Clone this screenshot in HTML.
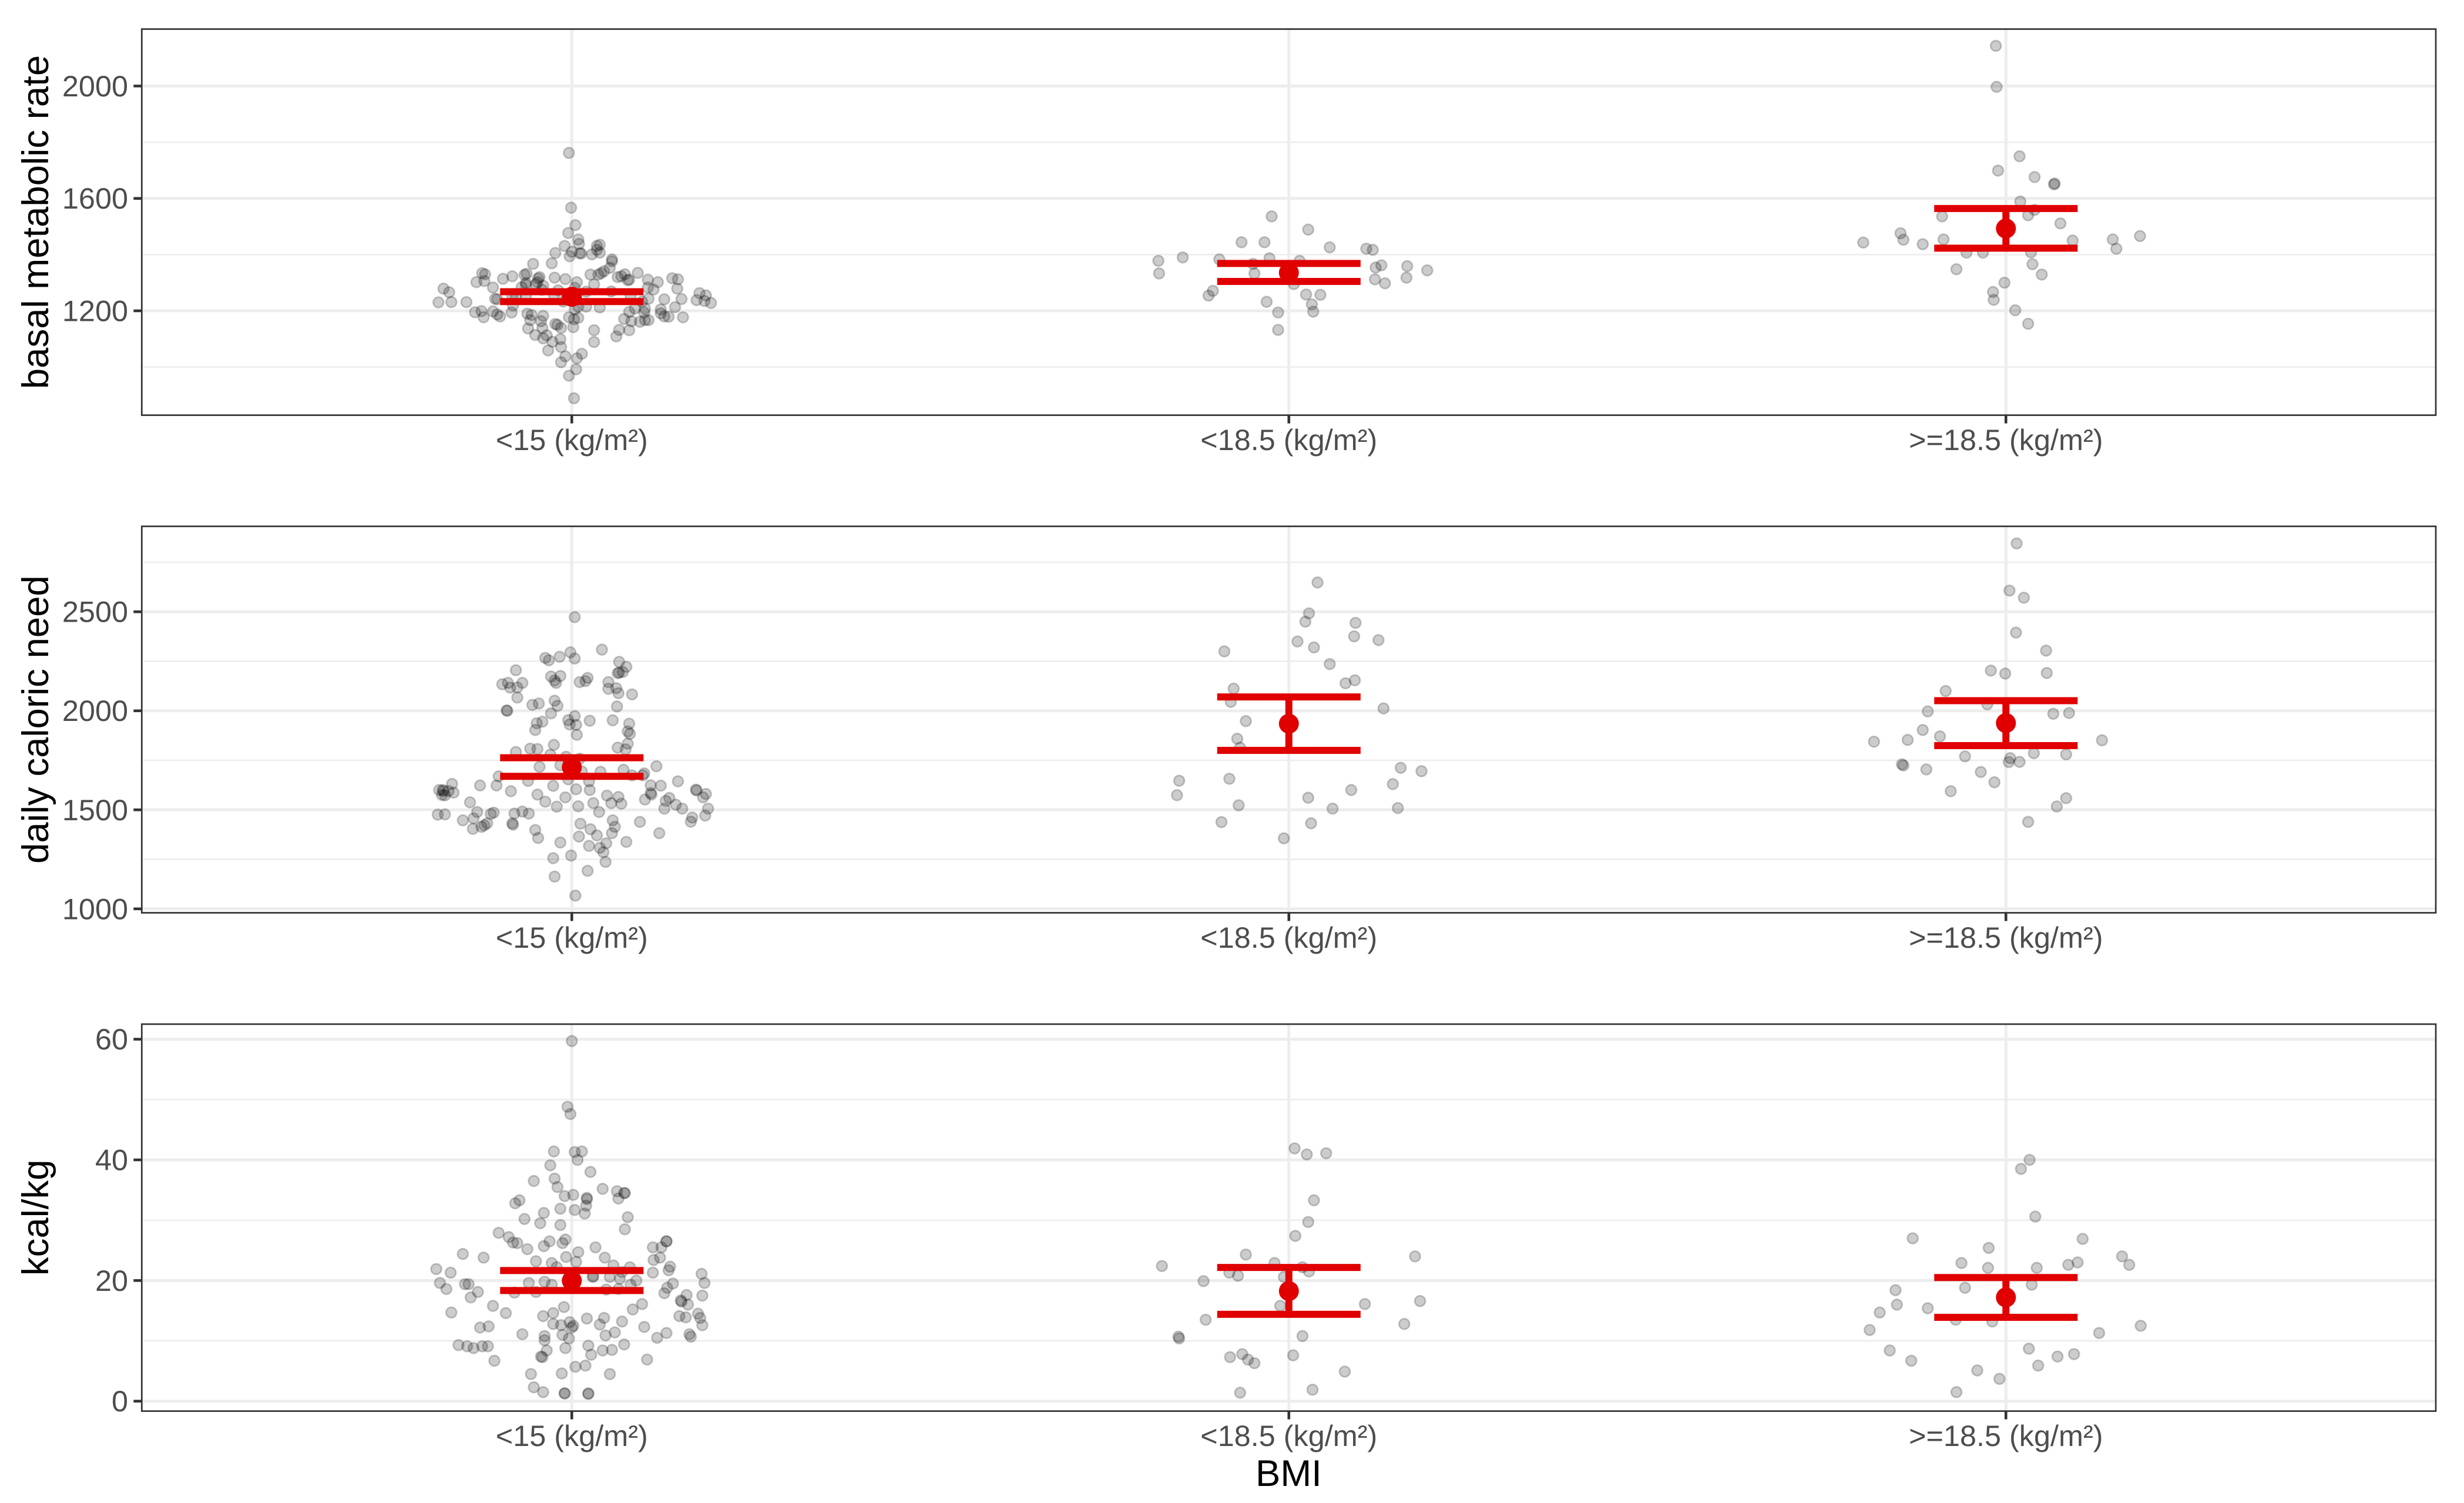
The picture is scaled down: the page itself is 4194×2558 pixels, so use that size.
<!DOCTYPE html>
<html lang="en">
<head>
<meta charset="utf-8">
<title>BMI versus basal metabolic rate, daily caloric need and kcal/kg</title>
<style>
html,body{margin:0;padding:0;background:#fff;width:4194px;height:2558px;overflow:hidden}
svg{display:block;font-family:"Liberation Sans",Arial,sans-serif}
</style>
</head>
<body>
<svg id="chart" xmlns="http://www.w3.org/2000/svg" width="4194" height="2558" viewBox="0 0 4194 2558">
  <rect x="0" y="0" width="4194" height="2558" fill="#ffffff"/>
  <g id="panel-bmr"></g>
  <g id="panel-cal"></g>
  <g id="panel-kcal"></g>
  <text transform="translate(82,378) rotate(-90)" text-anchor="middle" font-size="63.5" fill="#000">basal metabolic rate</text>
  <text transform="translate(82,1224.6) rotate(-90)" text-anchor="middle" font-size="63.5" fill="#000">daily caloric need</text>
  <text transform="translate(82,2072.3) rotate(-90)" text-anchor="middle" font-size="63.5" fill="#000">kcal/kg</text>
  <text x="2193.5" y="2529" text-anchor="middle" font-size="63.5" fill="#000">BMI</text>
</svg>
<script>
const categories = ["<15 (kg/m²)", "<18.5 (kg/m²)", ">=18.5 (kg/m²)"];

const bmrTicks = [1200, 1600, 2000];
const bmrMinorTicks = [1000, 1400, 1800];
const calTicks = [1000, 1500, 2000, 2500];
const calMinorTicks = [1250, 1750, 2250, 2750];
const kcalTicks = [0, 20, 40, 60];
const kcalMinorTicks = [10, 30, 50];

const bmrMeans = [1250, 1335.5, 1493];
const bmrLower = [1233, 1304.5, 1423];
const bmrUpper = [1268, 1368.5, 1564];
const calMeans = [1715, 1935, 1938];
const calLower = [1669, 1800, 1824];
const calUpper = [1763, 2070, 2051];
const kcalMeans = [19.97, 18.25, 17.2];
const kcalLower = [18.34, 14.4, 13.9];
const kcalUpper = [21.65, 22.16, 20.5];

// Each observation: [horizontal jitter in category units, measured value]
const bmrGroup1 = [[-.186,1230],[-.179,1279],[-.171,1266],[-.168,1231],[-.147,1231],[-.135,1195],[-.126,1199],[-.123,1177],[-.110,1198],[-.104,1187],[-.100,1180],[-.133,1302],[-.125,1334],[-.121,1330],[-.122,1306],[-.110,1283],[-.096,1314],[-.083,1323],[-.107,1243],[-.104,1241],[-.084,1194],[-.082,1219],[-.083,1254],[-.078,1254],[-.064,1252],[-.066,1328],[-.063,1332],[-.054,1367],[-.070,1284],[-.064,1299],[-.064,1292],[-.045,1320],[-.047,1315],[-.048,1302],[-.050,1295],[-.040,1289],[-.042,1275],[-.024,1318],[-.009,1313],[.007,1302],[-.019,1273],[-.025,1257],[-.062,1190],[-.056,1185],[-.058,1167],[-.040,1182],[-.043,1163],[-.061,1137],[-.041,1139],[-.051,1114],[-.035,1113],[-.040,1102],[-.027,1090],[-.023,1153],[-.020,1150],[-.015,1139],[-.016,1099],[-.015,1071],[-.033,1059],[-.009,1038],[-.015,1017],[-.004,969],[.006,992],[.007,1031],[.014,1047],[.003,889],[.002,1142],[-.004,1177],[.003,1170],[.009,1175],[.004,1205],[.009,1215],[.020,1215],[.039,1212],[.031,1131],[.031,1089],[.062,1109],[.066,1132],[.080,1131],[.073,1171],[.083,1163],[.080,1196],[.088,1208],[.095,1161],[.102,1167],[.107,1167],[.102,1208],[.101,1194],[.124,1205],[.124,1191],[.129,1180],[.135,1179],[.155,1177],[.144,1213],[.129,1241],[.153,1242],[.107,1243],[.082,1254],[.055,1269],[.114,1276],[.106,1283],[.106,1311],[.120,1302],[.140,1316],[.148,1312],[.147,1279],[.178,1263],[.187,1255],[.174,1238],[.185,1235],[.194,1228],[.092,1335],[.074,1330],[.064,1320],[.069,1323],[.078,1309],[.080,1311],[.031,1294],[.026,1329],[.037,1329],[.041,1334],[.045,1341],[.053,1353],[.056,1376],[.056,1383],[.028,1401],[.035,1431],[.039,1435],[.039,1407],[.035,1417],[.009,1454],[.010,1438],[.011,1405],[.013,1404],[0,1410],[-.003,1394],[-.010,1431],[-.023,1406],[-.028,1369],[-.005,1477],[.005,1505],[-.001,1567],[-.004,1762],[.020,1268],[.004,1282],[.098,1233],[-.012,1233]];
const bmrGroup2 = [[-.182,1378],[-.181,1333],[-.148,1390],[-.097,1383],[-.112,1254],[-.106,1271],[-.066,1444],[-.034,1444],[-.024,1536],[.027,1489],[.057,1426],[.108,1421],[.117,1417],[-.027,1387],[.015,1378],[-.050,1367],[-.048,1333],[-.031,1232],[-.015,1194],[-.015,1132],[.024,1258],[.044,1257],[.032,1223],[.034,1197],[.007,1295],[.129,1362],[.121,1354],[.165,1359],[.193,1344],[.164,1318],[.120,1312],[.134,1298]];
const bmrGroup3 = [[-.014,2143],[-.013,1997],[.019,1750],[-.011,1699],[.040,1676],[.068,1653],[.067,1650],[.020,1589],[.040,1559],[.031,1540],[-.089,1536],[.076,1511],[-.147,1476],[-.143,1453],[-.199,1443],[-.116,1437],[-.087,1454],[.093,1450],[.149,1454],[.187,1466],[.154,1421],[-.055,1407],[-.032,1407],[.035,1408],[.037,1366],[-.069,1348],[.050,1329],[-.002,1300],[-.018,1267],[-.017,1239],[.013,1202],[.031,1154]];

const calGroup1 = [[.004,2473],[.042,2309],[-.002,2295],[-.017,2273],[.004,2264],[-.037,2267],[-.032,2255],[.066,2247],[.076,2222],[.071,2196],[.064,2190],[.066,2193],[-.078,2205],[-.097,2134],[-.089,2141],[-.069,2141],[-.086,2117],[-.076,2118],[-.076,2067],[-.029,2173],[-.016,2176],[-.024,2153],[-.022,2141],[.011,2145],[.019,2150],[.022,2166],[.051,2145],[.051,2111],[.062,2114],[.065,2089],[.084,2083],[.063,2022],[-.055,2030],[-.046,2037],[-.024,2051],[-.020,2025],[-.091,2002],[-.090,2000],[-.029,1987],[-.041,1945],[-.049,1937],[-.051,1903],[.004,1973],[-.005,1953],[-.003,1931],[.006,1929],[.007,1879],[.025,1950],[.057,1952],[.080,1935],[.078,1896],[.081,1884],[.078,1834],[.064,1814],[.075,1805],[-.025,1828],[-.058,1809],[-.048,1807],[-.078,1792],[-.030,1778],[-.008,1768],[.011,1758],[-.045,1717],[-.016,1725],[.014,1694],[.040,1692],[.072,1702],[.118,1720],[.084,1674],[.101,1684],[.099,1674],[-.102,1669],[-.105,1623],[-.128,1623],[-.061,1646],[-.026,1621],[-.005,1654],[.024,1644],[.006,1604],[.025,1600],[-.167,1631],[-.185,1600],[-.180,1600],[-.181,1575],[-.177,1573],[-.172,1595],[-.165,1587],[-.179,1595],[-.085,1594],[-.048,1577],[-.037,1541],[-.009,1563],[-.021,1516],[.009,1518],[.030,1534],[.049,1572],[.065,1565],[.055,1534],[.069,1531],[.038,1489],[.110,1624],[.124,1622],[.148,1644],[.110,1585],[.111,1577],[.102,1552],[.136,1560],[.131,1545],[.129,1506],[.145,1526],[.154,1506],[.173,1602],[.174,1598],[.187,1580],[.183,1563],[.190,1506],[.186,1471],[.168,1461],[.166,1440],[.095,1439],[.122,1382],[-.187,1476],[-.177,1477],[-.142,1538],[-.132,1489],[-.137,1457],[-.152,1447],[-.138,1404],[-.126,1414],[-.122,1422],[-.118,1432],[-.113,1479],[-.109,1486],[-.080,1481],[-.069,1491],[-.060,1481],[-.083,1432],[-.082,1425],[-.051,1398],[-.047,1358],[-.016,1335],[.012,1430],[.026,1402],[.035,1371],[.010,1365],[.024,1318],[.057,1447],[.060,1414],[.056,1382],[.048,1331],[.039,1308],[.044,1286],[.047,1237],[.076,1338],[-.001,1269],[-.026,1256],[.022,1192],[-.024,1163],[.005,1067]];
const calGroup2 = [[.040,2648],[.028,2492],[.023,2450],[.093,2444],[.091,2376],[.125,2357],[.012,2350],[.035,2320],[-.090,2300],[.057,2236],[.079,2139],[.092,2154],[-.077,2112],[-.081,2045],[.132,2012],[-.060,1948],[-.072,1859],[-.068,1814],[-.153,1647],[-.156,1574],[-.083,1657],[-.070,1523],[-.094,1438],[.027,1561],[.087,1600],[.061,1506],[.031,1432],[-.007,1356],[.156,1712],[.185,1695],[.145,1630],[.152,1509]];
const calGroup3 = [[.015,2845],[.005,2607],[.025,2571],[.014,2395],[.056,2304],[-.021,2203],[-.001,2188],[.057,2191],[-.084,2100],[-.026,2033],[-.109,1997],[.066,1985],[.088,1989],[-.116,1903],[-.092,1871],[-.137,1853],[-.184,1844],[.134,1851],[.039,1786],[.084,1780],[-.057,1770],[.006,1761],[.004,1741],[.019,1742],[-.145,1730],[-.143,1724],[-.111,1704],[-.035,1691],[-.016,1639],[-.077,1594],[.084,1559],[.071,1517],[.031,1439]];

const kcalGroup1 = [[0,59.7],[-.006,48.8],[-.002,47.6],[-.025,41.4],[.004,41.3],[.014,41.4],[.008,40.0],[-.030,39.1],[.026,38.0],[-.053,36.5],[-.024,36.9],[-.020,35.5],[-.010,34.0],[.002,34.2],[.043,35.2],[.063,34.8],[.073,34.5],[.074,34.5],[.065,33.6],[.021,33.7],[.021,33.5],[.020,32.4],[.004,31.7],[.018,31.1],[-.016,31.9],[-.039,31.2],[-.073,33.3],[-.079,32.8],[-.066,30.2],[-.044,29.5],[-.016,29.2],[.078,30.5],[.074,28.5],[-.102,27.9],[-.088,27.2],[-.082,26.3],[-.076,26.2],[-.062,25.2],[-.039,25.7],[-.031,26.5],[-.013,26.2],[-.009,26.8],[.033,25.5],[.009,24.7],[-.008,23.9],[.006,23.1],[.046,23.8],[-.050,23.2],[-.028,22.9],[-.021,22.2],[.058,22.5],[.081,22.2],[.070,21.4],[.132,26.5],[.132,26.5],[.113,25.5],[.125,25.5],[.114,23.4],[.123,23.8],[.137,22.3],[.135,21.7],[.113,21.3],[.181,21.1],[.185,19.6],[.182,17.5],[.141,19.5],[.133,18.8],[.129,17.9],[.160,17.6],[.162,16.0],[.152,16.7],[.153,16.5],[.098,16.1],[.085,15.2],[.150,14.1],[.159,13.9],[.176,14.5],[.179,13.8],[.182,12.6],[.164,11.1],[.166,10.7],[.132,11.3],[.119,10.5],[.101,12.3],[.105,6.9],[.030,20.7],[.029,20.6],[.053,20.6],[.067,20.3],[.090,20.0],[.082,19.3],[.065,18.6],[.048,18.5],[-.060,19.6],[-.038,19.8],[-.028,19.3],[-.050,18.1],[-.080,18.0],[-.189,21.9],[-.169,21.3],[-.184,19.6],[-.175,18.6],[-.149,19.4],[-.144,19.4],[-.152,24.4],[-.123,23.8],[-.131,18.1],[-.141,17.2],[-.110,15.8],[-.168,14.7],[-.092,14.6],[-.011,15.6],[-.026,14.6],[-.040,14.1],[.021,13.7],[.045,13.8],[.039,12.7],[.070,13.2],[.060,11.4],[.047,10.9],[-.026,12.8],[-.015,12.6],[-.003,13.1],[.002,12.5],[0,12.2],[-.013,11.0],[-.004,10.4],[-.038,10.8],[-.038,10.1],[-.069,11.1],[-.128,12.2],[-.116,12.4],[-.158,9.3],[-.146,9.1],[-.137,8.8],[-.125,9.1],[-.117,9.1],[-.108,6.7],[-.009,8.8],[-.035,8.4],[-.043,7.4],[-.041,7.3],[.023,9.2],[.027,7.7],[.043,8.4],[.056,8.5],[.073,9.4],[.005,5.7],[.019,5.9],[-.014,4.6],[.053,4.5],[-.057,4.5],[-.053,2.3],[-.040,1.5],[-.010,1.3],[-.010,1.3],[.023,1.3],[.023,1.2]];
const kcalGroup2 = [[.008,41.9],[.025,40.9],[.052,41.1],[.035,33.3],[.027,29.7],[.009,27.4],[-.060,24.3],[-.020,22.9],[-.177,22.4],[.019,22.2],[.028,21.5],[-.083,21.3],[-.071,20.8],[-.007,20.6],[-.119,19.9],[.176,24.0],[.183,16.6],[.106,16.1],[-.012,15.8],[-.116,13.5],[.161,12.8],[.019,10.8],[-.154,10.7],[-.153,10.4],[-.065,7.8],[-.082,7.3],[-.057,6.9],[-.048,6.3],[.006,7.6],[.078,4.9],[.033,1.9],[-.068,1.4]];
const kcalGroup3 = [[.033,40.0],[.021,38.5],[.041,30.6],[-.130,27.0],[.107,26.9],[-.024,25.4],[.162,24.0],[.172,22.6],[-.062,22.9],[.100,23.0],[.087,22.6],[-.025,22.1],[.043,22.1],[.036,19.3],[-.057,18.8],[-.154,18.4],[-.152,16.0],[-.176,14.7],[-.109,15.4],[-.070,13.5],[-.019,13.2],[-.190,11.8],[.130,11.3],[.188,12.5],[-.162,8.4],[-.132,6.7],[.032,8.7],[.072,7.4],[.095,7.8],[.045,5.9],[-.040,5.1],[-.009,3.7],[-.069,1.5]];

const SVGNS = "http://www.w3.org/2000/svg";
const PANEL_LEFT = 241.3, PANEL_RIGHT = 4146;
const X_FIRST = 973.3, X_STEP = 1220.5;

function xScale(position) {
  return X_FIRST + position * X_STEP;
}

function linearScale(domainLow, domainHigh, pixelBottom, pixelTop) {
  return function (value) {
    return pixelBottom + (value - domainLow) * (pixelTop - pixelBottom) / (domainHigh - domainLow);
  };
}

function make(tag, attrs, parent) {
  const el = document.createElementNS(SVGNS, tag);
  for (const key in attrs) el.setAttribute(key, attrs[key]);
  parent.appendChild(el);
  return el;
}

function drawPanel(group, top, bottom, domainLow, domainHigh, ticks, minorTicks, tickText, series, means, lower, upper) {
  const y = linearScale(domainLow, domainHigh, bottom, top);

  const bg = make("rect", { x: PANEL_LEFT, y: top, width: PANEL_RIGHT - PANEL_LEFT, height: bottom - top, fill: "#fff" }, group);
  
  

  minorTicks.forEach(function (t) {
    const line = make("line", { x1: PANEL_LEFT, x2: PANEL_RIGHT, y1: y(t), y2: y(t), stroke: "#ededed", "stroke-width": 2.6 }, group);
    
    
  });
  ticks.forEach(function (t) {
    const line = make("line", { x1: PANEL_LEFT, x2: PANEL_RIGHT, y1: y(t), y2: y(t), stroke: "#ededed", "stroke-width": 5 }, group);
    
    
  });
  categories.forEach(function (c, i) {
    const line = make("line", { x1: xScale(i), x2: xScale(i), y1: top, y2: bottom, stroke: "#ededed", "stroke-width": 5 }, group);
    
    
  });

  series.forEach(function (points, i) {
    points.forEach(function (p) {
      const dot = make("circle", { cx: xScale(i + p[0]), cy: y(p[1]), r: 9, fill: "#000", "fill-opacity": 0.2, stroke: "#000", "stroke-opacity": 0.2, "stroke-width": 2.8 }, group);
      
      
    });
  });

  means.forEach(function (m, i) {
    const cx = xScale(i);
    const half = 0.1 * X_STEP;
    const stem = make("line", { x1: cx, x2: cx, y1: y(lower[i]), y2: y(upper[i]), stroke: "#e00000", "stroke-width": 12 }, group);
    
    
    const capTop = make("line", { x1: cx - half, x2: cx + half, y1: y(upper[i]), y2: y(upper[i]), stroke: "#e00000", "stroke-width": 12 }, group);
    
    
    const capBottom = make("line", { x1: cx - half, x2: cx + half, y1: y(lower[i]), y2: y(lower[i]), stroke: "#e00000", "stroke-width": 12 }, group);
    
    
    const dot = make("circle", { cx: cx, cy: y(m), r: 17, fill: "#e00000" }, group);
    
    
  });

  const border = make("rect", { x: PANEL_LEFT, y: top, width: PANEL_RIGHT - PANEL_LEFT, height: bottom - top, fill: "none", stroke: "#333333", "stroke-width": 2.7 }, group);
  
  

  ticks.forEach(function (t, i) {
    const tick = make("line", { x1: PANEL_LEFT - 14, x2: PANEL_LEFT, y1: y(t), y2: y(t), stroke: "#333333", "stroke-width": 4.6 }, group);
    
    
    const label = make("text", { x: 218, y: y(t) + 17.5, "text-anchor": "end", "font-size": 50.4, fill: "#4d4d4d" }, group);
    
    
    label.textContent = tickText[i];
  });

  categories.forEach(function (c, i) {
    const tick = make("line", { x1: xScale(i), x2: xScale(i), y1: bottom, y2: bottom + 14, stroke: "#333333", "stroke-width": 4.6 }, group);
    
    
    const label = make("text", { x: xScale(i), y: bottom + 59.5, "text-anchor": "middle", "font-size": 50.4, fill: "#4d4d4d" }, group);
    
    
    label.textContent = c;
  });
}

drawPanel(document.getElementById("panel-bmr"), 49.5, 706.6, 828.6, 2202.6, bmrTicks, bmrMinorTicks, bmrTicks.map(String), [bmrGroup1, bmrGroup2, bmrGroup3], bmrMeans, bmrLower, bmrUpper);
drawPanel(document.getElementById("panel-cal"), 895.8, 1553.5, 980.1, 2931.4, calTicks, calMinorTicks, calTicks.map(String), [calGroup1, calGroup2, calGroup3], calMeans, calLower, calUpper);
drawPanel(document.getElementById("panel-kcal"), 1743, 2401.6, -1.646, 62.5, kcalTicks, kcalMinorTicks, kcalTicks.map(String), [kcalGroup1, kcalGroup2, kcalGroup3], kcalMeans, kcalLower, kcalUpper);
</script>
</body>
</html>
